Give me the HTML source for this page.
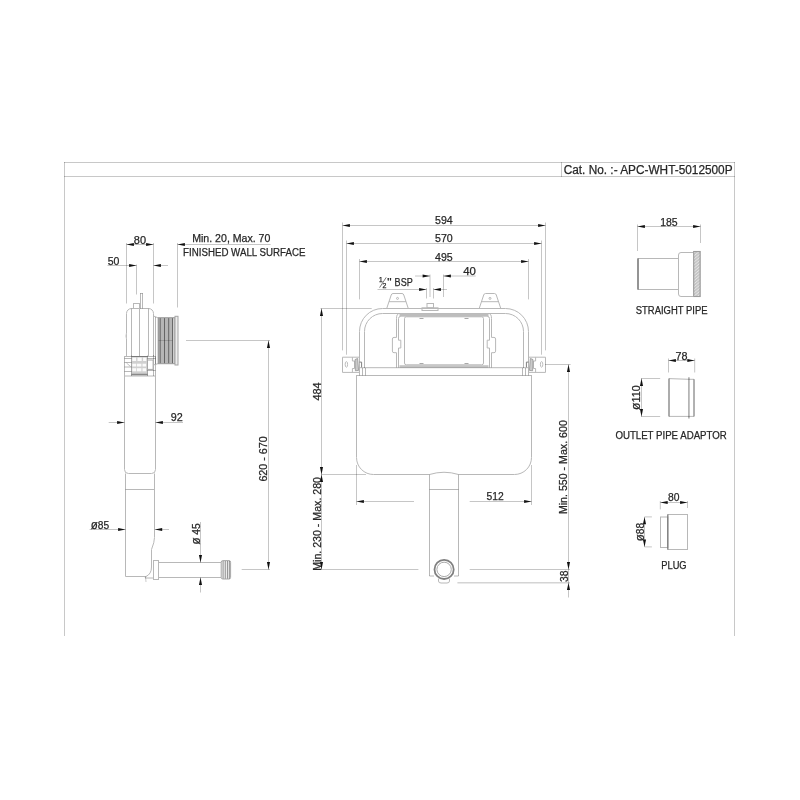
<!DOCTYPE html>
<html><head><meta charset="utf-8"><title>APC-WHT-5012500P</title><style>
html,body{margin:0;padding:0;background:#fff;width:800px;height:800px;overflow:hidden}
svg{display:block}
text{font-family:"Liberation Sans",sans-serif;stroke:#2a2a2a;stroke-width:0.25px}
svg{filter:grayscale(1)}
line{mix-blend-mode:multiply}
</style></head><body>
<svg width="800" height="800" viewBox="0 0 800 800">
<rect width="800" height="800" fill="#fff"/>
<line x1="64" y1="162.5" x2="735" y2="162.5" stroke="#c8c8c8" stroke-width="1"/>
<line x1="64" y1="176.5" x2="735" y2="176.5" stroke="#c8c8c8" stroke-width="1"/>
<line x1="64.5" y1="162" x2="64.5" y2="636" stroke="#c8c8c8" stroke-width="1"/>
<line x1="734.5" y1="162" x2="734.5" y2="636" stroke="#c8c8c8" stroke-width="1"/>
<line x1="561.5" y1="162" x2="561.5" y2="177" stroke="#c8c8c8" stroke-width="1"/>
<text x="563.7" y="174" font-size="12" fill="#262626" textLength="168.9" lengthAdjust="spacingAndGlyphs">Cat. No. :- APC-WHT-5012500P</text>
<line x1="126.5" y1="244.5" x2="153.5" y2="244.5" stroke="#c6c6c6" stroke-width="1"/>
<polygon points="126.50,244.50 133.90,242.95 133.90,246.05" fill="#111"/>
<polygon points="153.50,244.50 146.10,242.95 146.10,246.05" fill="#111"/>
<text x="133.8" y="244" font-size="11" fill="#262626" textLength="12.2" lengthAdjust="spacingAndGlyphs">80</text>
<line x1="126.5" y1="243" x2="126.5" y2="303.5" stroke="#c6c6c6" stroke-width="1"/>
<line x1="153.5" y1="243" x2="153.5" y2="303.5" stroke="#c6c6c6" stroke-width="1"/>
<line x1="136.5" y1="264.5" x2="136.5" y2="294.5" stroke="#c6c6c6" stroke-width="1"/>
<line x1="177.5" y1="243" x2="177.5" y2="307.5" stroke="#c6c6c6" stroke-width="1"/>
<line x1="107.5" y1="265.5" x2="136.5" y2="265.5" stroke="#c6c6c6" stroke-width="1"/>
<polygon points="136.50,265.50 129.10,263.95 129.10,267.05" fill="#111"/>
<text x="107.7" y="265" font-size="11" fill="#262626" textLength="11.7" lengthAdjust="spacingAndGlyphs">50</text>
<line x1="153.5" y1="265.5" x2="168" y2="265.5" stroke="#c6c6c6" stroke-width="1"/>
<polygon points="153.50,265.50 160.90,263.95 160.90,267.05" fill="#111"/>
<line x1="177.5" y1="244.5" x2="270.6" y2="244.5" stroke="#c6c6c6" stroke-width="1"/>
<polygon points="177.50,244.50 184.90,242.95 184.90,246.05" fill="#111"/>
<text x="192.2" y="242" font-size="10.5" fill="#262626" textLength="78.2" lengthAdjust="spacingAndGlyphs">Min. 20, Max. 70</text>
<text x="183.1" y="256" font-size="10" fill="#262626" textLength="122.3" lengthAdjust="spacingAndGlyphs">FINISHED WALL SURFACE</text>
<path d="M126.5,356 V313.5 A5,5 0 0 1 131.5,308.5 H148.5 A5,5 0 0 1 153.5,313.5 V356" stroke="#b8b8b8" stroke-width="1" fill="none"/>
<line x1="131.5" y1="308.5" x2="131.5" y2="356" stroke="#b8b8b8" stroke-width="1"/>
<line x1="139.5" y1="308.5" x2="139.5" y2="356" stroke="#b8b8b8" stroke-width="1"/>
<line x1="148.5" y1="308.5" x2="148.5" y2="356" stroke="#b8b8b8" stroke-width="1"/>
<rect x="133.5" y="303.5" width="6" height="5" rx="0" stroke="#b8b8b8" stroke-width="1" fill="none"/>
<line x1="140.5" y1="293" x2="140.5" y2="308.5" stroke="#b8b8b8" stroke-width="1"/>
<line x1="142.5" y1="293" x2="142.5" y2="308.5" stroke="#b8b8b8" stroke-width="1"/>
<line x1="140.5" y1="293.5" x2="142.5" y2="293.5" stroke="#b8b8b8" stroke-width="1"/>
<path d="M126.5,333 Q125.3,336 126.5,339" stroke="#c8c8c8" stroke-width="1" fill="none"/>
<rect x="131.5" y="356.5" width="16" height="19" fill="#d0d0d0"/>
<rect x="132.3" y="357.6" width="3.8" height="3.4" fill="#fbfbfb"/>
<rect x="137.5" y="357.6" width="4.2" height="3.4" fill="#fbfbfb"/>
<rect x="143.1" y="357.6" width="3.2" height="3.4" fill="#fbfbfb"/>
<rect x="132.3" y="363.7" width="3.8" height="2.8" fill="#fbfbfb"/>
<rect x="136.8" y="363.7" width="4.6" height="2.8" fill="#fbfbfb"/>
<rect x="142.5" y="363.7" width="3.6" height="2.8" fill="#fbfbfb"/>
<rect x="132.3" y="368.2" width="3.8" height="3.1" fill="#fbfbfb"/>
<rect x="136.8" y="368.2" width="4.6" height="3.1" fill="#fbfbfb"/>
<rect x="142.5" y="368.2" width="3.6" height="3.1" fill="#fbfbfb"/>
<rect x="124.5" y="356.5" width="31" height="19.5" rx="0" stroke="#b8b8b8" stroke-width="1" fill="none"/>
<line x1="131.5" y1="355.5" x2="131.5" y2="376" stroke="#b8b8b8" stroke-width="1"/>
<line x1="147.5" y1="355.5" x2="147.5" y2="376" stroke="#b8b8b8" stroke-width="1"/>
<line x1="153.5" y1="355" x2="153.5" y2="376" stroke="#b8b8b8" stroke-width="1"/>
<line x1="131.5" y1="356.5" x2="147.5" y2="356.5" stroke="#a8a8a8" stroke-width="1"/>
<line x1="131.5" y1="374.5" x2="147.5" y2="374.5" stroke="#a8a8a8" stroke-width="1.5"/>
<line x1="124.5" y1="358.5" x2="131.5" y2="358.5" stroke="#b8b8b8" stroke-width="1"/>
<line x1="124.5" y1="362.5" x2="131.5" y2="362.5" stroke="#b8b8b8" stroke-width="1"/>
<line x1="124.5" y1="367" x2="131.5" y2="367" stroke="#b8b8b8" stroke-width="1"/>
<line x1="124.5" y1="371.5" x2="131.5" y2="371.5" stroke="#b8b8b8" stroke-width="1"/>
<line x1="126.5" y1="363" x2="130.5" y2="366.5" stroke="#c0c0c0" stroke-width="1"/>
<rect x="147.5" y="360" width="5.6" height="9.4" rx="0" stroke="#a8a8a8" stroke-width="1" fill="none"/>
<line x1="147.5" y1="358.5" x2="155.5" y2="358.5" stroke="#b8b8b8" stroke-width="1"/>
<line x1="147.5" y1="370.5" x2="155.5" y2="370.5" stroke="#b8b8b8" stroke-width="1"/>
<path d="M153.5,316 L158.5,318 M153.5,365 L158.5,363.5" stroke="#b8b8b8" stroke-width="1" fill="none"/>
<line x1="155.5" y1="317" x2="155.5" y2="364.3" stroke="#b8b8b8" stroke-width="1"/>
<line x1="158" y1="318" x2="158" y2="363.5" stroke="#b8b8b8" stroke-width="1"/>
<rect x="158.5" y="317.7" width="16.5" height="46" fill="#b6b6b6"/>
<rect x="172.8" y="317.7" width="2.2" height="46" fill="#d0d0d0"/>
<line x1="160.2" y1="318" x2="160.2" y2="363.5" stroke="#8f8f8f" stroke-width="1"/>
<line x1="164.5" y1="318" x2="164.5" y2="363.5" stroke="#8f8f8f" stroke-width="1"/>
<line x1="168.7" y1="318" x2="168.7" y2="363.5" stroke="#8f8f8f" stroke-width="1"/>
<line x1="172.5" y1="318" x2="172.5" y2="363.5" stroke="#8f8f8f" stroke-width="1"/>
<rect x="158.5" y="317.7" width="16.5" height="46" rx="0" stroke="#9c9c9c" stroke-width="1" fill="none"/>
<line x1="158.5" y1="340.5" x2="172.5" y2="340.5" stroke="#bcbcbc" stroke-width="0.6"/>
<rect x="175" y="316.3" width="3" height="48.7" rx="0" stroke="#a4a4a4" stroke-width="1" fill="#eeeeee"/>
<path d="M124.5,376 V469.5 A4,4 0 0 0 128.5,473.5 H151.5 A4,4 0 0 0 155.5,469.5 V376" stroke="#b8b8b8" stroke-width="1" fill="none"/>
<path d="M125.5,473.5 V576.5 H146" stroke="#b8b8b8" stroke-width="1" fill="none"/>
<line x1="125.5" y1="489.5" x2="154.5" y2="489.5" stroke="#b8b8b8" stroke-width="1"/>
<path d="M154.5,473.5 V537.5 Q154.5,542 151.5,549.5 V567 Q151.5,574 146,576.5 L145,578 L153.5,578" stroke="#b8b8b8" stroke-width="1" fill="none"/>
<line x1="145.5" y1="576.5" x2="146" y2="582" stroke="#cccccc" stroke-width="1"/>
<line x1="108.7" y1="422.5" x2="124.5" y2="422.5" stroke="#c6c6c6" stroke-width="1"/>
<polygon points="124.50,422.50 117.10,420.95 117.10,424.05" fill="#111"/>
<line x1="155.5" y1="422.5" x2="183" y2="422.5" stroke="#c6c6c6" stroke-width="1"/>
<polygon points="155.50,422.50 162.90,420.95 162.90,424.05" fill="#111"/>
<text x="170.7" y="421" font-size="11" fill="#262626" textLength="12.0" lengthAdjust="spacingAndGlyphs">92</text>
<line x1="89.6" y1="529.5" x2="125.5" y2="529.5" stroke="#c6c6c6" stroke-width="1"/>
<polygon points="125.50,529.50 118.10,527.95 118.10,531.05" fill="#111"/>
<line x1="154.8" y1="529.5" x2="169" y2="529.5" stroke="#c6c6c6" stroke-width="1"/>
<polygon points="154.80,529.50 162.20,527.95 162.20,531.05" fill="#111"/>
<text x="90.7" y="529" font-size="11" fill="#262626" textLength="18.4" lengthAdjust="spacingAndGlyphs"><tspan font-size="12.5">ø</tspan>85</text>
<rect x="153.5" y="560.5" width="5" height="19" rx="0" stroke="#b8b8b8" stroke-width="1" fill="none"/>
<path d="M158.5,562.5 H221 M158.5,577.5 H221" stroke="#b8b8b8" stroke-width="1" fill="none"/>
<rect x="221.2" y="560.6" width="9.4" height="18.4" rx="1.6" stroke="#a8a8a8" stroke-width="1" fill="#ececec"/>
<line x1="223.1" y1="561" x2="223.1" y2="578.6" stroke="#999999" stroke-width="0.9"/>
<line x1="225.3" y1="561" x2="225.3" y2="578.6" stroke="#999999" stroke-width="0.9"/>
<line x1="227.5" y1="561" x2="227.5" y2="578.6" stroke="#999999" stroke-width="0.9"/>
<line x1="229.4" y1="561" x2="229.4" y2="578.6" stroke="#999999" stroke-width="0.9"/>
<line x1="200.5" y1="522" x2="200.5" y2="562.5" stroke="#c6c6c6" stroke-width="1"/>
<polygon points="200.50,562.50 198.95,555.10 202.05,555.10" fill="#111"/>
<line x1="200.5" y1="577.5" x2="200.5" y2="592.5" stroke="#c6c6c6" stroke-width="1"/>
<polygon points="200.50,577.50 198.95,584.90 202.05,584.90" fill="#111"/>
<text x="199.8" y="544.6" font-size="11" fill="#262626" textLength="21.4" lengthAdjust="spacingAndGlyphs" transform="rotate(-90 199.8 544.6)"><tspan font-size="12.5">ø</tspan> 45</text>
<line x1="186" y1="340.5" x2="270" y2="340.5" stroke="#c6c6c6" stroke-width="1"/>
<line x1="241.7" y1="569.5" x2="270" y2="569.5" stroke="#c6c6c6" stroke-width="1"/>
<line x1="268.5" y1="340.5" x2="268.5" y2="569.5" stroke="#c6c6c6" stroke-width="1"/>
<polygon points="268.50,340.50 266.95,347.90 270.05,347.90" fill="#111"/>
<polygon points="268.50,569.50 266.95,562.10 270.05,562.10" fill="#111"/>
<text x="267.2" y="481.6" font-size="11" fill="#262626" textLength="45.4" lengthAdjust="spacingAndGlyphs" transform="rotate(-90 267.2 481.6)">620 - 670</text>
<line x1="342.5" y1="225.5" x2="545.5" y2="225.5" stroke="#c6c6c6" stroke-width="1"/>
<polygon points="342.50,225.50 349.90,223.95 349.90,227.05" fill="#111"/>
<polygon points="545.50,225.50 538.10,223.95 538.10,227.05" fill="#111"/>
<text x="435.0" y="224" font-size="11" fill="#262626" textLength="17.7" lengthAdjust="spacingAndGlyphs">594</text>
<line x1="346.5" y1="243.5" x2="541.5" y2="243.5" stroke="#c6c6c6" stroke-width="1"/>
<polygon points="346.50,243.50 353.90,241.95 353.90,245.05" fill="#111"/>
<polygon points="541.50,243.50 534.10,241.95 534.10,245.05" fill="#111"/>
<text x="435.0" y="242" font-size="11" fill="#262626" textLength="17.7" lengthAdjust="spacingAndGlyphs">570</text>
<line x1="359.5" y1="261.5" x2="528.5" y2="261.5" stroke="#c6c6c6" stroke-width="1"/>
<polygon points="359.50,261.50 366.90,259.95 366.90,263.05" fill="#111"/>
<polygon points="528.50,261.50 521.10,259.95 521.10,263.05" fill="#111"/>
<text x="435.0" y="261" font-size="11" fill="#262626" textLength="17.7" lengthAdjust="spacingAndGlyphs">495</text>
<line x1="342.5" y1="222.5" x2="342.5" y2="350.4" stroke="#c6c6c6" stroke-width="1"/>
<line x1="545.5" y1="222.5" x2="545.5" y2="350.4" stroke="#c6c6c6" stroke-width="1"/>
<line x1="346.5" y1="240.5" x2="346.5" y2="354.7" stroke="#c6c6c6" stroke-width="1"/>
<line x1="541.5" y1="240.5" x2="541.5" y2="354.7" stroke="#c6c6c6" stroke-width="1"/>
<line x1="359.5" y1="259" x2="359.5" y2="299.4" stroke="#c6c6c6" stroke-width="1"/>
<line x1="528.5" y1="259" x2="528.5" y2="299.4" stroke="#c6c6c6" stroke-width="1"/>
<line x1="415" y1="276" x2="430" y2="276" stroke="#c6c6c6" stroke-width="1"/>
<polygon points="430.00,276.00 422.60,274.45 422.60,277.55" fill="#111"/>
<line x1="430" y1="274.5" x2="430" y2="297" stroke="#c6c6c6" stroke-width="1"/>
<line x1="443.5" y1="276" x2="475.7" y2="276" stroke="#c6c6c6" stroke-width="1"/>
<polygon points="443.50,276.00 450.90,274.45 450.90,277.55" fill="#111"/>
<line x1="443.5" y1="274.5" x2="443.5" y2="297" stroke="#c6c6c6" stroke-width="1"/>
<text x="463.2" y="275" font-size="11" fill="#262626" textLength="12.7" lengthAdjust="spacingAndGlyphs">40</text>
<line x1="377.5" y1="289.5" x2="426.5" y2="289.5" stroke="#c6c6c6" stroke-width="1"/>
<polygon points="426.50,289.50 419.10,287.95 419.10,291.05" fill="#111"/>
<line x1="426.5" y1="288" x2="426.5" y2="298.5" stroke="#c6c6c6" stroke-width="1"/>
<line x1="433.5" y1="289.5" x2="447" y2="289.5" stroke="#c6c6c6" stroke-width="1"/>
<polygon points="433.50,289.50 440.90,287.95 440.90,291.05" fill="#111"/>
<line x1="433.5" y1="288" x2="433.5" y2="298.5" stroke="#c6c6c6" stroke-width="1"/>
<text x="378.9" y="281.6" font-size="6.5" fill="#262626">1</text>
<line x1="379.6" y1="287.6" x2="386.2" y2="277.4" stroke="#555" stroke-width="0.8"/>
<text x="382.6" y="287.6" font-size="7" fill="#262626">2</text>
<text x="387.3" y="286" font-size="10.5" fill="#262626" textLength="4.3" lengthAdjust="spacingAndGlyphs">"</text>
<text x="394.6" y="286" font-size="11" fill="#262626" textLength="18.1" lengthAdjust="spacingAndGlyphs">BSP</text>
<rect x="427" y="303.5" width="6.5" height="4.3" rx="0" stroke="#b8b8b8" stroke-width="1" fill="none"/>
<rect x="422" y="307.8" width="16" height="2.7" rx="0" stroke="#b8b8b8" stroke-width="1" fill="none"/>
<path d="M386.8,308.2 L391.2,295 A2,2 0 0 1 393.0,293.5 H402.0 A2,2 0 0 1 403.8,295 L408.2,308.2" stroke="#b8b8b8" stroke-width="1" fill="none"/>
<line x1="389.40000000000003" y1="301.7" x2="405.6" y2="301.7" stroke="#b8b8b8" stroke-width="1"/>
<circle cx="397.5" cy="298.4" r="1" stroke="#aaa" fill="none" stroke-width="0.8"/>
<path d="M479.3,308.2 L483.7,295 A2,2 0 0 1 485.5,293.5 H494.5 A2,2 0 0 1 496.3,295 L500.7,308.2" stroke="#b8b8b8" stroke-width="1" fill="none"/>
<line x1="481.90000000000003" y1="301.7" x2="498.1" y2="301.7" stroke="#b8b8b8" stroke-width="1"/>
<circle cx="490.0" cy="298.4" r="1" stroke="#aaa" fill="none" stroke-width="0.8"/>
<path d="M359.5,375.5 V331.5 A23,23 0 0 1 382.5,308.5 H505.5 A23,23 0 0 1 528.5,331.5 V375.5" stroke="#b8b8b8" stroke-width="1" fill="none"/>
<path d="M364.5,368 V331.5 A18,18 0 0 1 382.5,313.5 H505.5 A18,18 0 0 1 523.5,331.5 V368" stroke="#b8b8b8" stroke-width="1" fill="none"/>
<rect x="399.5" y="313.4" width="89" height="3.3" fill="#bdbdbd"/>
<rect x="399.5" y="365.2" width="89" height="2.4" fill="#c4c4c4"/>
<path d="M396.5,367.5 V352.7 H394 A1.6,1.6 0 0 1 392.4,351.1 V339 A1.6,1.6 0 0 1 394,337.4 H396.5 V318.5 Q396.5,313.5 399.5,313.5" stroke="#b8b8b8" stroke-width="1" fill="none"/>
<path d="M398.5,367.5 V348 H400.8 V340.2 H398.5 V318.5 Q398.5,316.5 400.5,316.5" stroke="#b8b8b8" stroke-width="1" fill="none"/>
<path d="M491.5,367.5 V352.7 H494 A1.6,1.6 0 0 0 495.6,351.1 V339 A1.6,1.6 0 0 0 494,337.4 H491.5 V318.5 Q491.5,313.5 488.5,313.5" stroke="#b8b8b8" stroke-width="1" fill="none"/>
<path d="M489.5,367.5 V348 H487.2 V340.2 H489.5 V318.5 Q489.5,316.5 487.5,316.5" stroke="#b8b8b8" stroke-width="1" fill="none"/>
<rect x="404.5" y="316.8" width="79" height="48" rx="1.8" stroke="#b8b8b8" stroke-width="1" fill="none"/>
<line x1="419.5" y1="318.5" x2="423.5" y2="318.5" stroke="#a8a8a8" stroke-width="1"/>
<line x1="419.5" y1="363.5" x2="423.5" y2="363.5" stroke="#a8a8a8" stroke-width="1"/>
<line x1="464.5" y1="318.5" x2="468.5" y2="318.5" stroke="#a8a8a8" stroke-width="1"/>
<line x1="464.5" y1="363.5" x2="468.5" y2="363.5" stroke="#a8a8a8" stroke-width="1"/>
<line x1="359" y1="367.7" x2="529" y2="367.7" stroke="#b8b8b8" stroke-width="1"/>
<line x1="356" y1="375.5" x2="532" y2="375.5" stroke="#b8b8b8" stroke-width="1"/>
<line x1="362.5" y1="368" x2="362.5" y2="375.5" stroke="#b8b8b8" stroke-width="1"/>
<line x1="365.5" y1="368" x2="365.5" y2="375.5" stroke="#b8b8b8" stroke-width="1"/>
<line x1="525.5" y1="368" x2="525.5" y2="375.5" stroke="#b8b8b8" stroke-width="1"/>
<line x1="522.5" y1="368" x2="522.5" y2="375.5" stroke="#b8b8b8" stroke-width="1"/>
<path d="M356.5,375.5 V457.5 A17,17 0 0 0 373.5,474.5 H429.5 Q444,470 458.5,474.5 H514.5 A17,17 0 0 0 531.5,457.5 V375.5" stroke="#b8b8b8" stroke-width="1" fill="none"/>
<polygon points="342.50,357.2 359.40,357.2 359.40,372.4 342.50,372.4" stroke="#b8b8b8" fill="none"/>
<ellipse cx="346.4" cy="364.4" rx="1.2" ry="2.8" stroke="#b4b4b4" fill="none" stroke-width="0.9"/>
<polyline points="352.40,357.2 352.40,361 354.50,361 354.50,368.5 352.40,368.5 352.40,372.4" stroke="#b8b8b8" fill="none"/>
<polygon points="355.00,359.6 357.60,358.4 358.60,370.4 355.40,370.8" stroke="#959595" stroke-width="0.8" fill="#cacaca"/>
<polyline points="359.40,362.1 361.60,362.1 361.60,367.4" stroke="#808080" fill="none"/>
<polygon points="545.50,357.2 528.60,357.2 528.60,372.4 545.50,372.4" stroke="#b8b8b8" fill="none"/>
<ellipse cx="541.6" cy="364.4" rx="1.2" ry="2.8" stroke="#b4b4b4" fill="none" stroke-width="0.9"/>
<polyline points="535.60,357.2 535.60,361 533.50,361 533.50,368.5 535.60,368.5 535.60,372.4" stroke="#b8b8b8" fill="none"/>
<polygon points="533.00,359.6 530.40,358.4 529.40,370.4 532.60,370.8" stroke="#959595" stroke-width="0.8" fill="#cacaca"/>
<polyline points="528.60,362.1 526.40,362.1 526.40,367.4" stroke="#808080" fill="none"/>
<line x1="429.5" y1="474.5" x2="429.5" y2="576" stroke="#b8b8b8" stroke-width="1"/>
<line x1="458.5" y1="474.5" x2="458.5" y2="576" stroke="#b8b8b8" stroke-width="1"/>
<line x1="429.5" y1="489.5" x2="458.5" y2="489.5" stroke="#b8b8b8" stroke-width="1"/>
<line x1="429.5" y1="576" x2="434" y2="576" stroke="#b8b8b8" stroke-width="1"/>
<line x1="454" y1="576" x2="458.5" y2="576" stroke="#b8b8b8" stroke-width="1"/>
<circle cx="444.1" cy="569.4" r="9.6" stroke="#808080" fill="#fff" stroke-width="1.8"/>
<circle cx="444.1" cy="569.4" r="7.2" stroke="#aaa" fill="none" stroke-width="1"/>
<path d="M438.5,578.5 V581 Q438.5,583 441,583 H447 Q449.5,583 449.5,581 V578.5" stroke="#b8b8b8" stroke-width="1" fill="none"/>
<line x1="320.5" y1="308.5" x2="371.7" y2="308.5" stroke="#c6c6c6" stroke-width="1"/>
<line x1="321.5" y1="308.5" x2="321.5" y2="569.5" stroke="#c6c6c6" stroke-width="1"/>
<polygon points="321.50,308.50 319.95,315.90 323.05,315.90" fill="#111"/>
<polygon points="321.50,474.50 319.95,467.10 323.05,467.10" fill="#111"/>
<polygon points="321.50,474.50 319.95,481.90 323.05,481.90" fill="#111"/>
<polygon points="321.50,569.50 319.95,562.10 323.05,562.10" fill="#111"/>
<line x1="321" y1="474.5" x2="366" y2="474.5" stroke="#c6c6c6" stroke-width="1"/>
<line x1="321" y1="569.5" x2="418.4" y2="569.5" stroke="#c6c6c6" stroke-width="1"/>
<text x="320.8" y="400.6" font-size="11" fill="#262626" textLength="18.2" lengthAdjust="spacingAndGlyphs" transform="rotate(-90 320.8 400.6)">484</text>
<text x="320.6" y="570.8" font-size="10.5" fill="#262626" textLength="93.8" lengthAdjust="spacingAndGlyphs" transform="rotate(-90 320.6 570.8)">Min. 230 - Max. 280</text>
<line x1="356.5" y1="465" x2="356.5" y2="505" stroke="#c6c6c6" stroke-width="1"/>
<line x1="531.5" y1="465" x2="531.5" y2="505" stroke="#c6c6c6" stroke-width="1"/>
<line x1="356.5" y1="501.5" x2="414" y2="501.5" stroke="#c6c6c6" stroke-width="1"/>
<line x1="469.7" y1="501.5" x2="531.5" y2="501.5" stroke="#c6c6c6" stroke-width="1"/>
<polygon points="356.50,501.50 363.90,499.95 363.90,503.05" fill="#111"/>
<polygon points="531.50,501.50 524.10,499.95 524.10,503.05" fill="#111"/>
<text x="486.5" y="500" font-size="11" fill="#262626" textLength="17.2" lengthAdjust="spacingAndGlyphs">512</text>
<line x1="545" y1="364.5" x2="570.6" y2="364.5" stroke="#c6c6c6" stroke-width="1"/>
<line x1="568.5" y1="364.5" x2="568.5" y2="597.5" stroke="#c6c6c6" stroke-width="1"/>
<polygon points="568.50,364.50 566.95,371.90 570.05,371.90" fill="#111"/>
<polygon points="568.50,569.50 566.95,562.10 570.05,562.10" fill="#111"/>
<polygon points="568.50,582.70 566.95,590.10 570.05,590.10" fill="#111"/>
<line x1="469.7" y1="569.5" x2="570" y2="569.5" stroke="#c6c6c6" stroke-width="1"/>
<line x1="457.4" y1="582.8" x2="570" y2="582.8" stroke="#d4d4d4" stroke-width="1.6"/>
<text x="567.5" y="514.1" font-size="10.5" fill="#262626" textLength="93.9" lengthAdjust="spacingAndGlyphs" transform="rotate(-90 567.5 514.1)">Min. 550 - Max. 600</text>
<text x="568" y="581.9" font-size="11" fill="#262626" textLength="11.5" lengthAdjust="spacingAndGlyphs" transform="rotate(-90 568 581.9)">38</text>
<line x1="637.5" y1="226.5" x2="700.5" y2="226.5" stroke="#c6c6c6" stroke-width="1"/>
<polygon points="637.50,226.50 644.90,224.95 644.90,228.05" fill="#111"/>
<polygon points="700.50,226.50 693.10,224.95 693.10,228.05" fill="#111"/>
<line x1="637.5" y1="224.5" x2="637.5" y2="251" stroke="#c6c6c6" stroke-width="1"/>
<line x1="700.5" y1="224.5" x2="700.5" y2="243" stroke="#c6c6c6" stroke-width="1"/>
<text x="660.2" y="226" font-size="11" fill="#262626" textLength="17.5" lengthAdjust="spacingAndGlyphs">185</text>
<rect x="638" y="258.5" width="40.5" height="31" rx="0" stroke="#b8b8b8" stroke-width="1" fill="none"/>
<line x1="638" y1="258.5" x2="638" y2="289.5" stroke="#999" stroke-width="1.6"/>
<path d="M678.5,289.5 V255 A2.5,2.5 0 0 1 681,252.5 H693 M678.5,258 V294 A2.5,2.5 0 0 0 681,296.5 H693" stroke="#b8b8b8" stroke-width="1" fill="none"/>
<clipPath id="hc"><rect x="693.2" y="251" width="7.4" height="46"/></clipPath>
<rect x="693.2" y="251" width="7.4" height="46" fill="#c6c6c6"/>
<path d="M693,253.5 L701,247.0 M693,256.6 L701,250.1 M693,259.7 L701,253.2 M693,262.8 L701,256.3 M693,265.9 L701,259.4 M693,269.0 L701,262.5 M693,272.1 L701,265.6 M693,275.2 L701,268.7 M693,278.3 L701,271.8 M693,281.4 L701,274.9 M693,284.5 L701,278.0 M693,287.6 L701,281.1 M693,290.7 L701,284.2 M693,293.8 L701,287.3 M693,296.9 L701,290.4 M693,300.0 L701,293.5 M693,303.1 L701,296.6 M693,306.2 L701,299.7 M693,309.3 L701,302.8 " stroke="#e8e8e8" stroke-width="0.9" clip-path="url(#hc)" fill="none"/>
<rect x="693.7" y="251.5" width="6.4" height="45" rx="0" stroke="#9c9c9c" stroke-width="1.1" fill="none"/>
<text x="635.8" y="314" font-size="10" fill="#262626" textLength="71.7" lengthAdjust="spacingAndGlyphs">STRAIGHT PIPE</text>
<line x1="668.5" y1="360.5" x2="694.7" y2="360.5" stroke="#c6c6c6" stroke-width="1"/>
<polygon points="668.50,360.50 675.90,358.95 675.90,362.05" fill="#111"/>
<polygon points="694.70,360.50 687.30,358.95 687.30,362.05" fill="#111"/>
<line x1="668.5" y1="358.5" x2="668.5" y2="372.5" stroke="#c6c6c6" stroke-width="1"/>
<line x1="694.7" y1="358.5" x2="694.7" y2="372.5" stroke="#c6c6c6" stroke-width="1"/>
<text x="675.4" y="360" font-size="11" fill="#262626" textLength="12.0" lengthAdjust="spacingAndGlyphs">78</text>
<path d="M669,378.6 L688.9,379.3 H694 V416.4 H669 Z" stroke="#b8b8b8" stroke-width="1" fill="none"/>
<line x1="669" y1="378.6" x2="669" y2="416.4" stroke="#b0b0b0" stroke-width="1.4"/>
<line x1="694" y1="379.3" x2="694" y2="416.4" stroke="#b4b4b4" stroke-width="1.3"/>
<line x1="688.9" y1="377.2" x2="688.9" y2="418.5" stroke="#adadad" stroke-width="1.6"/>
<line x1="641.5" y1="378.5" x2="641.5" y2="416.5" stroke="#c6c6c6" stroke-width="1"/>
<polygon points="641.50,378.50 639.95,385.90 643.05,385.90" fill="#111"/>
<polygon points="641.50,416.50 639.95,409.10 643.05,409.10" fill="#111"/>
<line x1="641" y1="378.5" x2="660.2" y2="378.5" stroke="#c6c6c6" stroke-width="1"/>
<line x1="641" y1="416.5" x2="660.2" y2="416.5" stroke="#c6c6c6" stroke-width="1"/>
<text x="640.3" y="409.9" font-size="11" fill="#262626" textLength="24.5" lengthAdjust="spacingAndGlyphs" transform="rotate(-90 640.3 409.9)"><tspan font-size="12.5">ø</tspan>110</text>
<text x="615.4" y="439" font-size="10" fill="#262626" textLength="111.4" lengthAdjust="spacingAndGlyphs">OUTLET PIPE ADAPTOR</text>
<line x1="660.3" y1="502.5" x2="687.5" y2="502.5" stroke="#c6c6c6" stroke-width="1"/>
<polygon points="660.30,502.50 667.70,500.95 667.70,504.05" fill="#111"/>
<polygon points="687.50,502.50 680.10,500.95 680.10,504.05" fill="#111"/>
<line x1="660.3" y1="501" x2="660.3" y2="509.4" stroke="#c6c6c6" stroke-width="1"/>
<line x1="687.5" y1="501" x2="687.5" y2="508" stroke="#c6c6c6" stroke-width="1"/>
<text x="667.9" y="501" font-size="11" fill="#262626" textLength="11.5" lengthAdjust="spacingAndGlyphs">80</text>
<rect x="660.5" y="517" width="7.3" height="30.5" rx="0" stroke="#b8b8b8" stroke-width="1" fill="none"/>
<rect x="667.8" y="514.5" width="19.7" height="35" rx="0" stroke="#b8b8b8" stroke-width="1" fill="none"/>
<line x1="667.8" y1="514.5" x2="667.8" y2="549.5" stroke="#b0b0b0" stroke-width="1.5"/>
<line x1="644.5" y1="516.9" x2="644.5" y2="546.9" stroke="#c6c6c6" stroke-width="1"/>
<polygon points="644.50,516.90 642.95,524.30 646.05,524.30" fill="#111"/>
<polygon points="644.50,546.90 642.95,539.50 646.05,539.50" fill="#111"/>
<line x1="644.5" y1="516.9" x2="651.9" y2="516.9" stroke="#c6c6c6" stroke-width="1"/>
<line x1="644.5" y1="546.9" x2="651.9" y2="546.9" stroke="#c6c6c6" stroke-width="1"/>
<text x="644" y="541.3" font-size="11" fill="#262626" textLength="18.4" lengthAdjust="spacingAndGlyphs" transform="rotate(-90 644 541.3)"><tspan font-size="12.5">ø</tspan>88</text>
<text x="661.3" y="569" font-size="10" fill="#262626" textLength="25.3" lengthAdjust="spacingAndGlyphs">PLUG</text>
</svg>
</body></html>
